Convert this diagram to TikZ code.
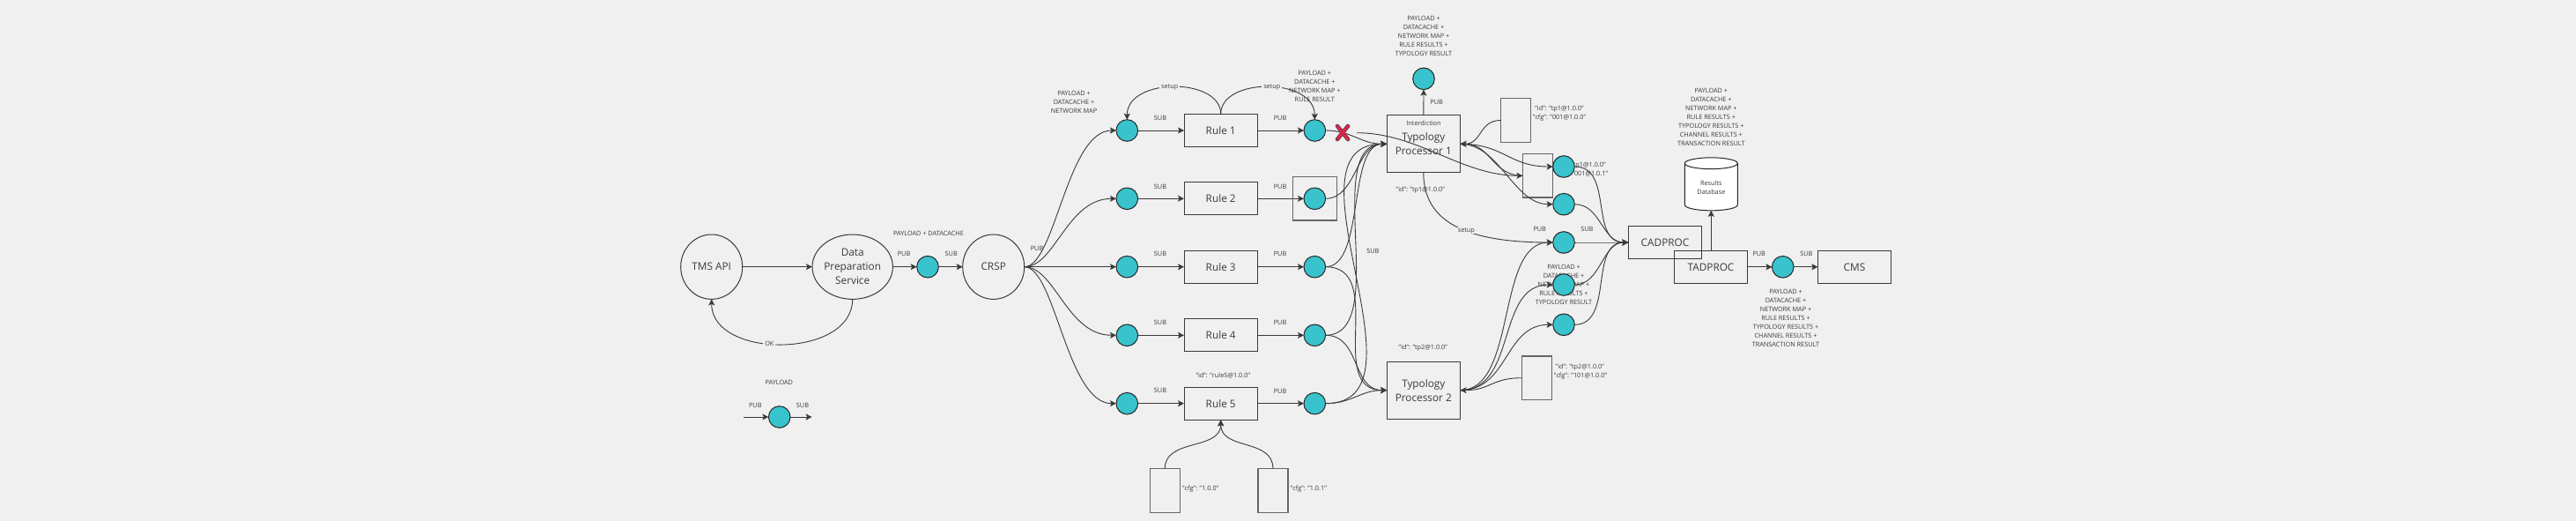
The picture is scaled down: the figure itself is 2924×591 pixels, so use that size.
\documentclass[tikz,border=0pt]{standalone}
\usepackage{fontspec}
\setmainfont{Open Sans}
\usetikzlibrary{arrows.meta,shapes.geometric}
\definecolor{bgcol}{HTML}{F0F0F0}
\definecolor{hubcol}{HTML}{38C3CD}
\definecolor{inkcol}{HTML}{3A3A3A}
\definecolor{crosscol}{HTML}{E0234A}
\tikzset{
  lab/.style={font=\fontsize{7.3}{10}\selectfont,text=inkcol,align=center,inner sep=0pt},
  bigtxt/.style={font=\fontsize{11.8}{16}\selectfont,text=inkcol,align=center,inner sep=0pt},
  box/.style={bigtxt,draw=inkcol,line width=1pt,minimum width=83.3pt,minimum height=37.3pt,outer sep=0pt},
  cfgbox/.style={draw=black!60,line width=1.2pt,minimum width=34pt,minimum height=49.5pt,inner sep=0pt,outer sep=0pt},
  round/.style={bigtxt,ellipse,draw=inkcol,line width=1pt,minimum height=73.4pt,inner sep=-12pt,outer sep=0pt},
  hub/.style={circle,draw=black!85,fill=hubcol,line width=1pt,minimum size=24.6pt,inner sep=0pt,outer sep=0pt},
  link/.style={draw=inkcol,line width=.9pt,-{Stealth[length=7pt,width=7pt,inset=1.5pt]}},
}
\begin{document}
\begin{tikzpicture}[x=1pt,y=-1pt]
\fill[bgcol] (0,0) rectangle (2924,591);
% texts that sit under the circles
\node[lab] at (1795,192.5) {"id": "tp1@1.0.0"\\"cfg": "001@1.0.1"};
\node[lab] at (1775,323.3) {PAYLOAD +\\DATACACHE +\\NETWORK MAP +\\RULE RESULTS +\\TYPOLOGY RESULT};
% left part
\node[round,minimum width=70pt] (tms) at (807.7,302.7) {TMS API};
\node[round,minimum width=91.4pt] (dps) at (967.7,302.7) {Data\\Preparation\\Service};
\node[hub] (hubdps) at (1053,302.7) {};
\node[round,minimum width=70pt] (crsp) at (1127.7,302.7) {CRSP};
\node[hub] (hubleg) at (884.7,473) {};
\coordinate (legin) at (844.3,473);
\coordinate (legout) at (921.7,473);
% rules
\foreach \n/\y in {1/148,2/225.3,3/302.7,4/380.3,5/457.7}{
  \node[hub] (in\n) at (1279.3,\y) {};
  \node[box] (r\n) at (1385.7,\y) {Rule \n};
  \node[hub] (out\n) at (1492.3,\y) {};
  \draw[link] (in\n) -- (r\n);
  \draw[link] (r\n) -- (out\n);
  \draw[link] (crsp.east) .. controls +(35,0) and +(-56,0) .. (in\n.west);
}
\node[draw=black!60,line width=1.2pt,minimum width=49.6pt,minimum height=49.3pt,inner sep=0pt] (mark2) at (1492.5,225.3) {};
\node[cfgbox] (cfga) at (1322.2,556.5) {};
\node[cfgbox] (cfgb) at (1445,556.5) {};
% typology processors
\node[box,minimum height=65.3pt] (tp1) at (1615.8,163.3) {Typology\\Processor 1};
\node[box,minimum height=65.3pt] (tp2) at (1615.8,442.7) {Typology\\Processor 2};
\node[hub] (hubtop) at (1616,89.3) {};
\node[cfgbox] (cfgc) at (1720.5,136.5) {};
\node[cfgbox] (cfgd) at (1745.5,199.3) {};
\node[cfgbox] (cfge) at (1744.5,428.7) {};
\node[hub] (huba) at (1775,189) {};
\node[hub] (hubb) at (1775,231.7) {};
\node[hub] (hubc) at (1775,275) {};
\node[hub] (hubd) at (1775,323) {};
\node[hub] (hube) at (1775,368.3) {};
% right part
\node[box] (cad) at (1890,275) {CADPROC};
\node[box] (tad) at (1942,302.8) {TADPROC};
\node[hub] (hubtad) at (2023.7,302.8) {};
\node[box] (cms) at (2105,302.8) {CMS};
\node[cylinder,shape border rotate=90,aspect=0.4,draw=black!85,fill=white,line width=1pt,minimum width=60pt,minimum height=60pt,inner sep=0pt,outer sep=0pt,lab] (db) at (1942.3,212.3) {Results\\Database};
\coordinate (crossa) at (1540,150.7);
% connectors
\draw[link] (tms) -- (dps);
\draw[link] (dps) -- (hubdps);
\draw[link] (hubdps) -- (crsp);
\draw[link] (legin) -- (hubleg);
\draw[link] (hubleg) -- (legout);
\draw[link] (dps.south) .. controls +(0,68) and +(0,68) .. node[pos=.56,lab,fill=bgcol,inner xsep=2pt] {OK} (tms.south);
\draw[link] (r1.north) .. controls +(0,-42) and +(0,-48) .. node[pos=.53,lab,fill=bgcol,inner xsep=2pt] {setup} (in1.north);
\draw[link] (r1.north) .. controls +(0,-42) and +(0,-48) .. node[pos=.53,lab,fill=bgcol,inner xsep=2pt] {setup} (out1.north);
\draw[link] (cfga.north) .. controls +(0,-35) and +(0,35) .. (r5.south);
\draw[link] (cfgb.north) .. controls +(0,-35) and +(0,35) .. (r5.south);
\foreach \a/\b/\c in {out1/tp1/30,out2/tp1/35,out3/tp1/45,out4/tp1/75,out5/tp1/125,out3/tp2/70,out4/tp2/40,out5/tp2/30}
  \draw[link] (\a.east) .. controls +(\c,0) and +(-\c,0) .. (\b.west);
\draw[link] (crossa) .. controls +(70,0) and +(-70,0) .. (cfgd.west);
\draw[link] (tp1) -- (hubtop);
\draw[link] (cfgc.west) .. controls +(-25,0) and +(25,0) .. (tp1.east);
\draw[link] (cfgd.west) .. controls +(-35,0) and +(35,0) .. (tp1.east);
\draw[link] (cfge.west) .. controls +(-35,0) and +(35,0) .. (tp2.east);
\foreach \b/\c in {huba/50,hubb/45}
  \draw[link] (tp1.east) .. controls +(\c,0) and +(-\c,0) .. (\b.west);
\draw[link] (tp1.south) .. controls +(0,55) and +(-100,0) .. node[pos=.58,lab,fill=bgcol,inner xsep=2pt] {setup} (hubc.west);
\foreach \b/\c in {hubc/65,hubd/65,hube/55}
  \draw[link] (tp2.east) .. controls +(\c,0) and +(-\c,0) .. (\b.west);
\foreach \a/\c in {huba/45,hubb/30,hubc/20,hubd/30,hube/45}
  \draw[link] (\a.east) .. controls +(\c,0) and +(-\c,0) .. (cad.west);
\draw[link] (tad.north -| db) -- (db.south);
\draw[link] (tad) -- (hubtad);
\draw[link] (hubtad) -- (cms);
% red cross
\foreach \w/\col in {4.6/black!70,3.2/crosscol}{
  \draw[\col,line width=\w pt,line cap=round] (1518,143) -- (1530,158);
  \draw[\col,line width=\w pt,line cap=round] (1530,143) -- (1518,158);
}
% labels
\node[lab] at (1054,264.5) {PAYLOAD + DATACACHE};
\node[lab] at (1026,288) {PUB};
\node[lab] at (1079.7,288) {SUB};
\node[lab] at (1177,281.5) {PUB};
\node[lab] at (884.3,434) {PAYLOAD};
\node[lab] at (857.3,459.5) {PUB};
\node[lab] at (911,459.5) {SUB};
\node[lab] at (1219,115.5) {PAYLOAD +\\DATACACHE +\\NETWORK MAP};
\node[lab] at (1492.3,98.3) {PAYLOAD +\\DATACACHE +\\NETWORK MAP +\\RULE RESULT};
\foreach \y/\z in {133.5/133.5,211.5/211.5,288.3/288.3,366.3/366.3,443.3/444.3}{
  \node[lab] at (1317,\y) {SUB};
  \node[lab] at (1453,\z) {PUB};
}
\node[lab] at (1558.3,285.3) {SUB};
\node[lab] at (1388.3,426.3) {"id": "rule5@1.0.0"};
\node[lab] at (1362.7,554.3) {"cfg": "1.0.0"};
\node[lab] at (1485.3,554.3) {"cfg": "1.0.1"};
\node[lab] at (1616,41.3) {PAYLOAD +\\DATACACHE +\\NETWORK MAP +\\RULE RESULTS +\\TYPOLOGY RESULT};
\node[lab] at (1630.7,116.3) {PUB};
\node[lab] at (1616,139.3) {Interdiction};
\node[lab] at (1770,128.3) {"id": "tp1@1.0.0"\\"cfg": "001@1.0.0"};
\node[lab] at (1612.3,215.3) {"id": "tp1@1.0.0"};
\node[lab] at (1747.7,260.3) {PUB};
\node[lab] at (1801.3,260.3) {SUB};
\node[lab] at (1615.3,394.3) {"id": "tp2@1.0.0"};
\node[lab,fill=black!5] at (1793.3,416.7) {"id": "tp2@1.0.0"};
\node[lab] at (1794,426.7) {"cfg": "101@1.0.0"};
\node[lab] at (1942.3,133.3) {PAYLOAD +\\DATACACHE +\\NETWORK MAP +\\RULE RESULTS +\\TYPOLOGY RESULTS +\\CHANNEL RESULTS +\\TRANSACTION RESULT};
\node[lab] at (1996.7,288.3) {PUB};
\node[lab] at (2050.3,288.3) {SUB};
\node[lab] at (2027,361.3) {PAYLOAD +\\DATACACHE +\\NETWORK MAP +\\RULE RESULTS +\\TYPOLOGY RESULTS +\\CHANNEL RESULTS +\\TRANSACTION RESULT};
\end{tikzpicture}
\end{document}
